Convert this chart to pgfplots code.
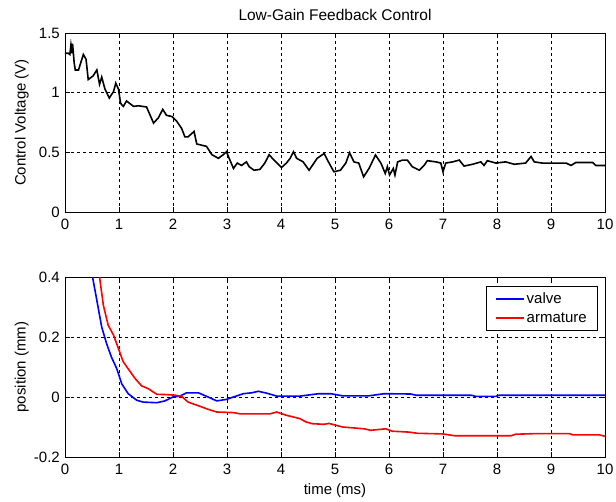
\documentclass[border=0pt]{standalone}
\usepackage{pgfplots}
\pgfplotsset{compat=1.18}
\usepackage{fontspec}
\setmainfont{Liberation Sans}
\begin{document}
\fontsize{15}{18}\selectfont
\begin{tikzpicture}
\path[use as bounding box] (0pt,0pt) rectangle (616pt,-502pt);
\pgfplotsset{
  mystyle/.style={
    scale only axis, width=540pt, height=179pt,
    xmin=0, xmax=10, xtick={0,1,...,10},
    grid=major,
    major grid style={black, line width=0.7pt, dash pattern=on 3pt off 3pt},
    axis line style={black, line width=0.9pt},
    tick align=inside, tick style={black, line width=0.8pt},
    major tick length=5pt,
    xtick pos=both, ytick pos=both,
    /pgf/number format/assume math mode=true,
    ticklabel style={font=\fontsize{15}{18}\selectfont},
    xticklabel style={yshift=-2pt},
    label style={font=\fontsize{15}{18}\selectfont},
    ylabel style={at={(axis description cs:-0.08,0.5)}, anchor=center},
    every axis plot/.append style={no marks, line width=1.6pt},
  }
}
\begin{axis}[mystyle, at={(65pt,-212pt)}, anchor=south west,
  ymin=0, ymax=1.5, ytick={0,0.5,1,1.5}, yticklabels={0,0.5,1,1.5},
  xticklabels={0,1,2,3,4,5,6,7,8,9,10},
  ylabel={Control Voltage (V)},
  title={Low-Gain Feedback Control},
  title style={at={(axis description cs:0.5,1.066)}, anchor=center, font=\fontsize{15.5}{18}\selectfont},
]
\addplot[black] coordinates {
(0,1.33)(0.06,1.33)(0.09,1.32)(0.11,1.40)(0.13,1.33)(0.14,1.41)(0.17,1.25)(0.19,1.19)(0.25,1.19)(0.34,1.32)(0.39,1.28)(0.43,1.11)(0.52,1.14)(0.59,1.19)(0.64,1.07)(0.68,1.13)(0.74,1.03)(0.82,0.955)(0.90,1.01)(0.94,1.08)(0.99,1.03)(1.03,0.91)(1.08,0.885)(1.14,0.93)(1.27,0.885)(1.36,0.89)(1.51,0.88)(1.64,0.745)(1.73,0.79)(1.81,0.86)(1.88,0.81)(1.98,0.80)(2.07,0.76)(2.16,0.70)(2.22,0.63)(2.28,0.63)(2.39,0.675)(2.44,0.57)(2.62,0.55)(2.72,0.48)(2.84,0.45)(2.93,0.48)(2.99,0.505)(3.04,0.45)(3.12,0.365)(3.19,0.41)(3.27,0.39)(3.36,0.42)(3.41,0.38)(3.50,0.35)(3.61,0.357)(3.70,0.41)(3.78,0.48)(3.87,0.435)(4.01,0.373)(4.10,0.41)(4.17,0.45)(4.23,0.505)(4.29,0.45)(4.41,0.42)(4.52,0.35)(4.67,0.45)(4.80,0.49)(4.86,0.435)(4.98,0.337)(5.10,0.35)(5.20,0.41)(5.27,0.497)(5.35,0.42)(5.44,0.41)(5.53,0.295)(5.63,0.365)(5.75,0.478)(5.85,0.41)(5.93,0.323)(5.97,0.38)(6.01,0.31)(6.08,0.365)(6.11,0.31)(6.16,0.42)(6.25,0.435)(6.34,0.435)(6.43,0.38)(6.56,0.35)(6.65,0.39)(6.71,0.43)(6.87,0.42)(6.96,0.41)(7.00,0.337)(7.05,0.41)(7.18,0.42)(7.30,0.435)(7.39,0.385)(7.55,0.40)(7.70,0.42)(7.76,0.39)(7.82,0.43)(7.98,0.41)(8.16,0.42)(8.32,0.40)(8.53,0.41)(8.63,0.465)(8.69,0.42)(8.84,0.41)(9.03,0.41)(9.28,0.41)(9.37,0.39)(9.46,0.415)(9.77,0.415)(9.83,0.39)(10,0.39)
};
\end{axis}
\begin{axis}[mystyle, at={(65pt,-457pt)}, anchor=south west, height=180pt,
  ymin=-0.2, ymax=0.4, ytick={-0.2,0,0.2,0.4}, yticklabels={-0.2,0,0.2,0.4},
  xticklabels={0,1,2,3,4,5,6,7,8,9,10},
  ylabel={position (mm)},
  xlabel={time (ms)},
  xlabel style={at={(axis description cs:0.5,-0.185)}, anchor=center},
  legend style={at={(axis description cs:0.985,0.95)}, anchor=north east,
    draw=black, font=\fontsize{15}{18}\selectfont,
    inner xsep=8pt, inner ysep=4pt, row sep=3pt,
    /tikz/every even column/.append style={column sep=10pt}},
  legend cell align=left,
]
\addplot[blue, legend image code/.code={\draw[blue,line width=2pt] (0pt,0pt)--(28pt,0pt);}] coordinates {
(0.45,0.5)(0.51,0.4)(0.59,0.322)(0.68,0.233)(0.77,0.178)(0.86,0.133)(0.96,0.094)(1.05,0.044)(1.17,0.011)(1.33,-0.011)(1.45,-0.017)(1.70,-0.019)(1.85,-0.013)(2.0,0)(2.13,0.003)(2.25,0.014)(2.47,0.014)(2.65,0)(2.81,-0.013)(2.99,-0.008)(3.12,0)(3.30,0.011)(3.46,0.014)(3.58,0.019)(3.73,0.013)(3.92,0.003)(4.35,0.003)(4.61,0.009)(4.70,0.011)(4.92,0.011)(5.14,0.004)(5.63,0.004)(5.91,0.011)(6.40,0.01)(6.50,0.006)(7.52,0.006)(7.61,0.002)(7.98,0.002)(8.04,0.006)(10,0.006)
};
\addlegendentry{valve}
\addplot[red, legend image code/.code={\draw[red,line width=2pt] (0pt,0pt)--(28pt,0pt);}] coordinates {
(0.58,0.48)(0.64,0.4)(0.71,0.306)(0.80,0.239)(0.90,0.206)(0.99,0.161)(1.08,0.117)(1.17,0.094)(1.30,0.061)(1.42,0.037)(1.54,0.028)(1.70,0.009)(1.88,0.008)(2.04,0.006)(2.16,0.002)(2.28,-0.017)(2.50,-0.031)(2.65,-0.041)(2.81,-0.05)(3.12,-0.052)(3.24,-0.056)(3.80,-0.056)(3.92,-0.05)(4.10,-0.061)(4.35,-0.072)(4.46,-0.083)(4.58,-0.089)(4.80,-0.091)(4.89,-0.088)(5.01,-0.094)(5.14,-0.1)(5.54,-0.106)(5.66,-0.111)(5.94,-0.106)(6.06,-0.114)(6.37,-0.117)(6.53,-0.121)(6.99,-0.123)(7.21,-0.129)(8.26,-0.129)(8.35,-0.124)(8.72,-0.122)(9.34,-0.122)(9.40,-0.126)(9.89,-0.126)(10,-0.131)
};
\addlegendentry{armature}
\end{axis}
\end{tikzpicture}
\end{document}
